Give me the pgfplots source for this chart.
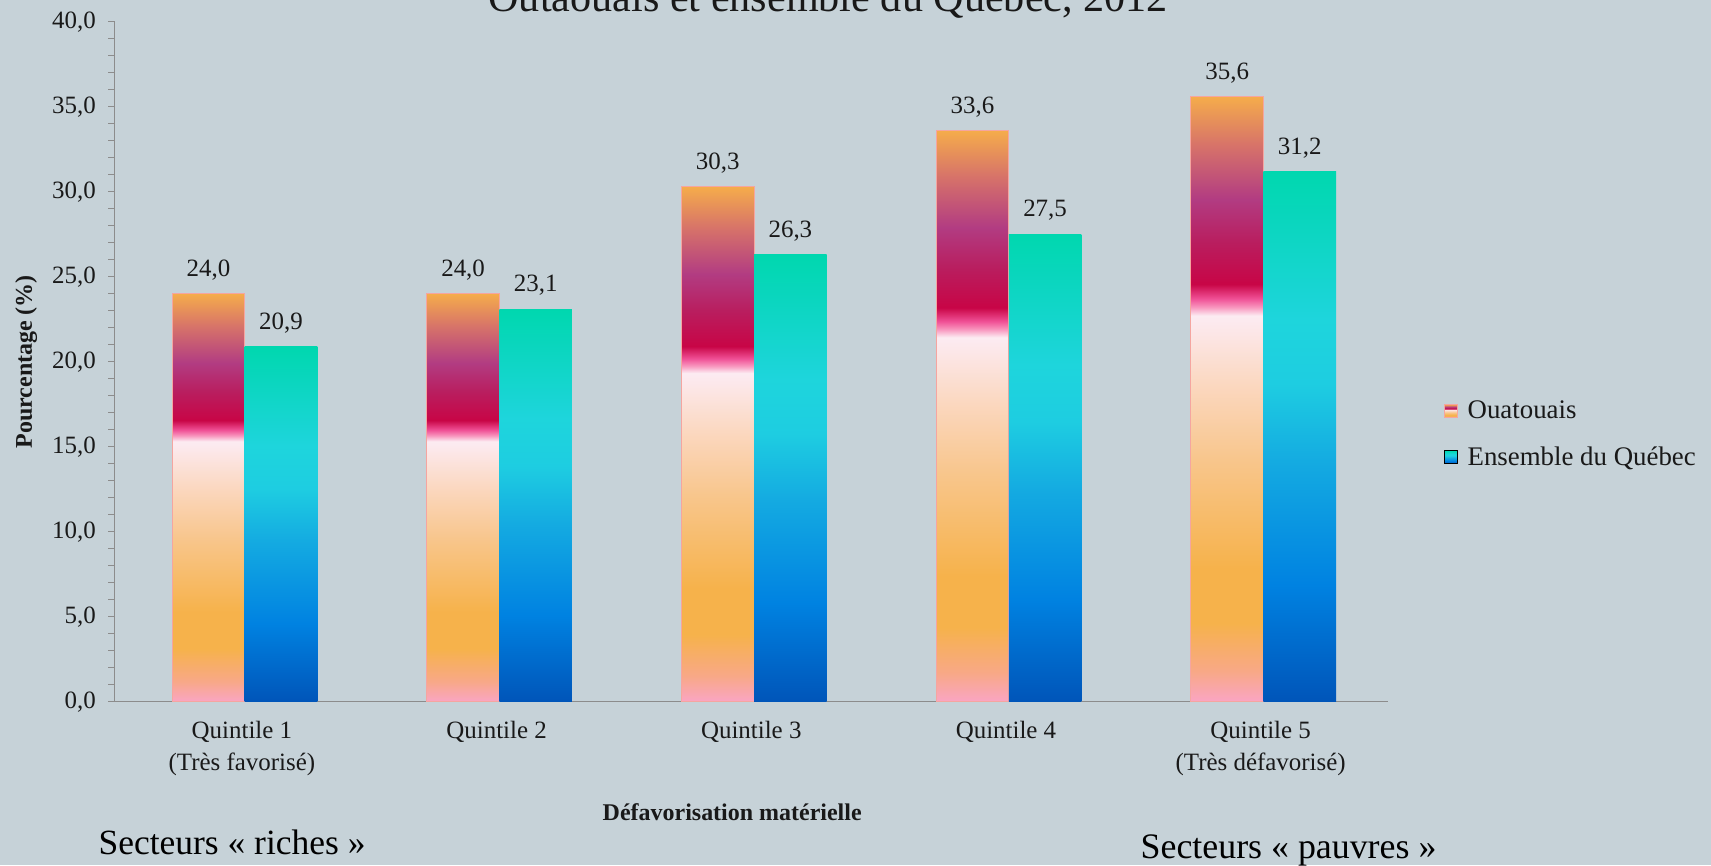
\documentclass[border=0pt]{standalone}
\usepackage{fontspec}
\setmainfont{Liberation Serif}
\usepackage{pgfplots}
\pgfplotsset{compat=1.18}

\definecolor{bgc}{RGB}{198,210,216}
\definecolor{ouatline}{RGB}{245,165,160}
\definecolor{axgray}{RGB}{140,140,140}
\definecolor{txt}{RGB}{25,25,25}

% shadings: bar spans 25bp (bottom) to 75bp (top)
\pgfdeclareverticalshading{ouat}{100bp}{%
  rgb(0bp)=(0.980,0.647,0.765); rgb(25bp)=(0.980,0.647,0.765);
  rgb(27.5bp)=(0.973,0.659,0.529); rgb(31.5bp)=(0.965,0.698,0.294);
  rgb(36bp)=(0.965,0.698,0.294); rgb(45bp)=(0.973,0.776,0.549);
  rgb(51bp)=(0.984,0.843,0.745); rgb(56bp)=(0.988,0.910,0.922);
  rgb(56.9bp)=(0.988,0.922,0.949); rgb(57.6bp)=(0.973,0.588,0.745);
  rgb(58.3bp)=(0.941,0.314,0.588); rgb(59.5bp)=(0.784,0.020,0.275);
  rgb(63bp)=(0.725,0.118,0.373); rgb(66.5bp)=(0.698,0.235,0.510);
  rgb(71bp)=(0.843,0.451,0.412); rgb(75bp)=(0.961,0.675,0.294);
  rgb(100bp)=(0.961,0.675,0.294)}
\pgfdeclareverticalshading{queb}{100bp}{%
  rgb(0bp)=(0,0.333,0.725); rgb(25bp)=(0,0.333,0.725);
  rgb(36bp)=(0,0.510,0.882); rgb(47.5bp)=(0.078,0.667,0.882);
  rgb(55bp)=(0.118,0.804,0.882); rgb(61bp)=(0.118,0.835,0.863);
  rgb(75bp)=(0,0.843,0.686); rgb(100bp)=(0,0.843,0.686)}

% one \addplot per bar, so each bar gets its own full gradient
\pgfplotsset{
  sqlegend/.style={legend image code/.code={%
    \draw[##1] (0cm,-0.12cm) rectangle (0.24cm,0.12cm);}},
  ouatbar/.style={shade, shading=ouat, draw=ouatline, line width=0.6pt,
                  bar shift=-0.1315, sqlegend},
  quebbar/.style={shade, shading=queb, draw=none, bar shift=0.1535, sqlegend},
}

\begin{document}
\begin{tikzpicture}
\fill[bgc] (-2.10,-3.00) rectangle (29.26,12.86);
\useasboundingbox (-2.10,-3.00) rectangle (29.26,12.86);

\begin{axis}[
    scale only axis,
    width=23.34cm,
    height=12.46cm,
    ybar=0pt,
    bar width=0.285,
    xmin=-0.5, xmax=4.5,
    ymin=0, ymax=40,
    clip=false,
    axis lines*=left,
    axis line style={axgray, line width=0.8pt},
    xtick={0,1,2,3,4},
    xticklabels={{Quintile 1\\(Très favorisé)}, {Quintile 2}, {Quintile 3},
                 {Quintile 4}, {Quintile 5\\(Très défavorisé)}},
    xtick style={draw=none},
    xticklabel style={align=center, font=\fontsize{13}{16.5}\selectfont, text=txt, yshift=-0.12cm},
    ytick={0,5,...,40},
    minor y tick num=4,
    tick align=outside,
    major tick length=0.12cm,
    minor tick length=0.12cm,
    ytick style={axgray, line width=0.6pt},
    minor y tick style={axgray, line width=0.6pt},
    yticklabel style={font=\fontsize{13}{15}\selectfont, text=txt, xshift=-0.10cm},
    ylabel={Pourcentage (\%)},
    ylabel style={at={(axis description cs:-0.0694,0.5)}, anchor=center,
                  font=\bfseries\fontsize{12.5}{15}\selectfont, text=txt},
    xlabel={Défavorisation matérielle},
    xlabel style={at={(axis description cs:0.485,-0.175)}, anchor=base,
                  font=\bfseries\fontsize{12.5}{15}\selectfont, text=txt},
    nodes near coords,
    every node near coord/.append style={font=\fontsize{13}{15}\selectfont, text=txt, yshift=3.5pt},
    legend style={draw=none, fill=none, at={(axis description cs:1.039,0.393)}, anchor=west,
                  font=\fontsize{14}{16}\selectfont, text=txt, row sep=9pt,
                  /tikz/every even column/.append style={column sep=0pt},
                  nodes={inner xsep=5pt}},
    legend cell align=left,
    /pgf/number format/fixed,
    /pgf/number format/fixed zerofill,
    /pgf/number format/precision=1,
    /pgf/number format/use comma,
    /pgf/number format/assume math mode=true,
]
% Quintile 1 (both series first, for the legend)
\addplot[ouatbar] coordinates {(0,24.0)};
\addlegendentry{Ouatouais}
\addplot[quebbar] coordinates {(0,20.9)};
\addlegendentry{Ensemble du Québec}
% Quintiles 2-5
\addplot[ouatbar, forget plot] coordinates {(1,24.0)};
\addplot[quebbar, forget plot] coordinates {(1,23.1)};
\addplot[ouatbar, forget plot] coordinates {(2,30.3)};
\addplot[quebbar, forget plot] coordinates {(2,26.3)};
\addplot[ouatbar, forget plot] coordinates {(3,33.6)};
\addplot[quebbar, forget plot] coordinates {(3,27.5)};
\addplot[ouatbar, forget plot] coordinates {(4,35.6)};
\addplot[quebbar, forget plot] coordinates {(4,31.2)};
\end{axis}

\node[anchor=base, font=\fontsize{22}{26}\selectfont, text=txt] at (13.08,12.64)
    {Outaouais et ensemble du Québec, 2012};
\node[anchor=base west, inner sep=0pt, font=\fontsize{18.5}{21}\selectfont, text=black] at (-0.30,-2.81)
    {Secteurs « riches »};
\node[anchor=base west, inner sep=0pt, font=\fontsize{18.7}{21}\selectfont, text=black] at (18.80,-2.88)
    {Secteurs « pauvres »};
\end{tikzpicture}
\end{document}
